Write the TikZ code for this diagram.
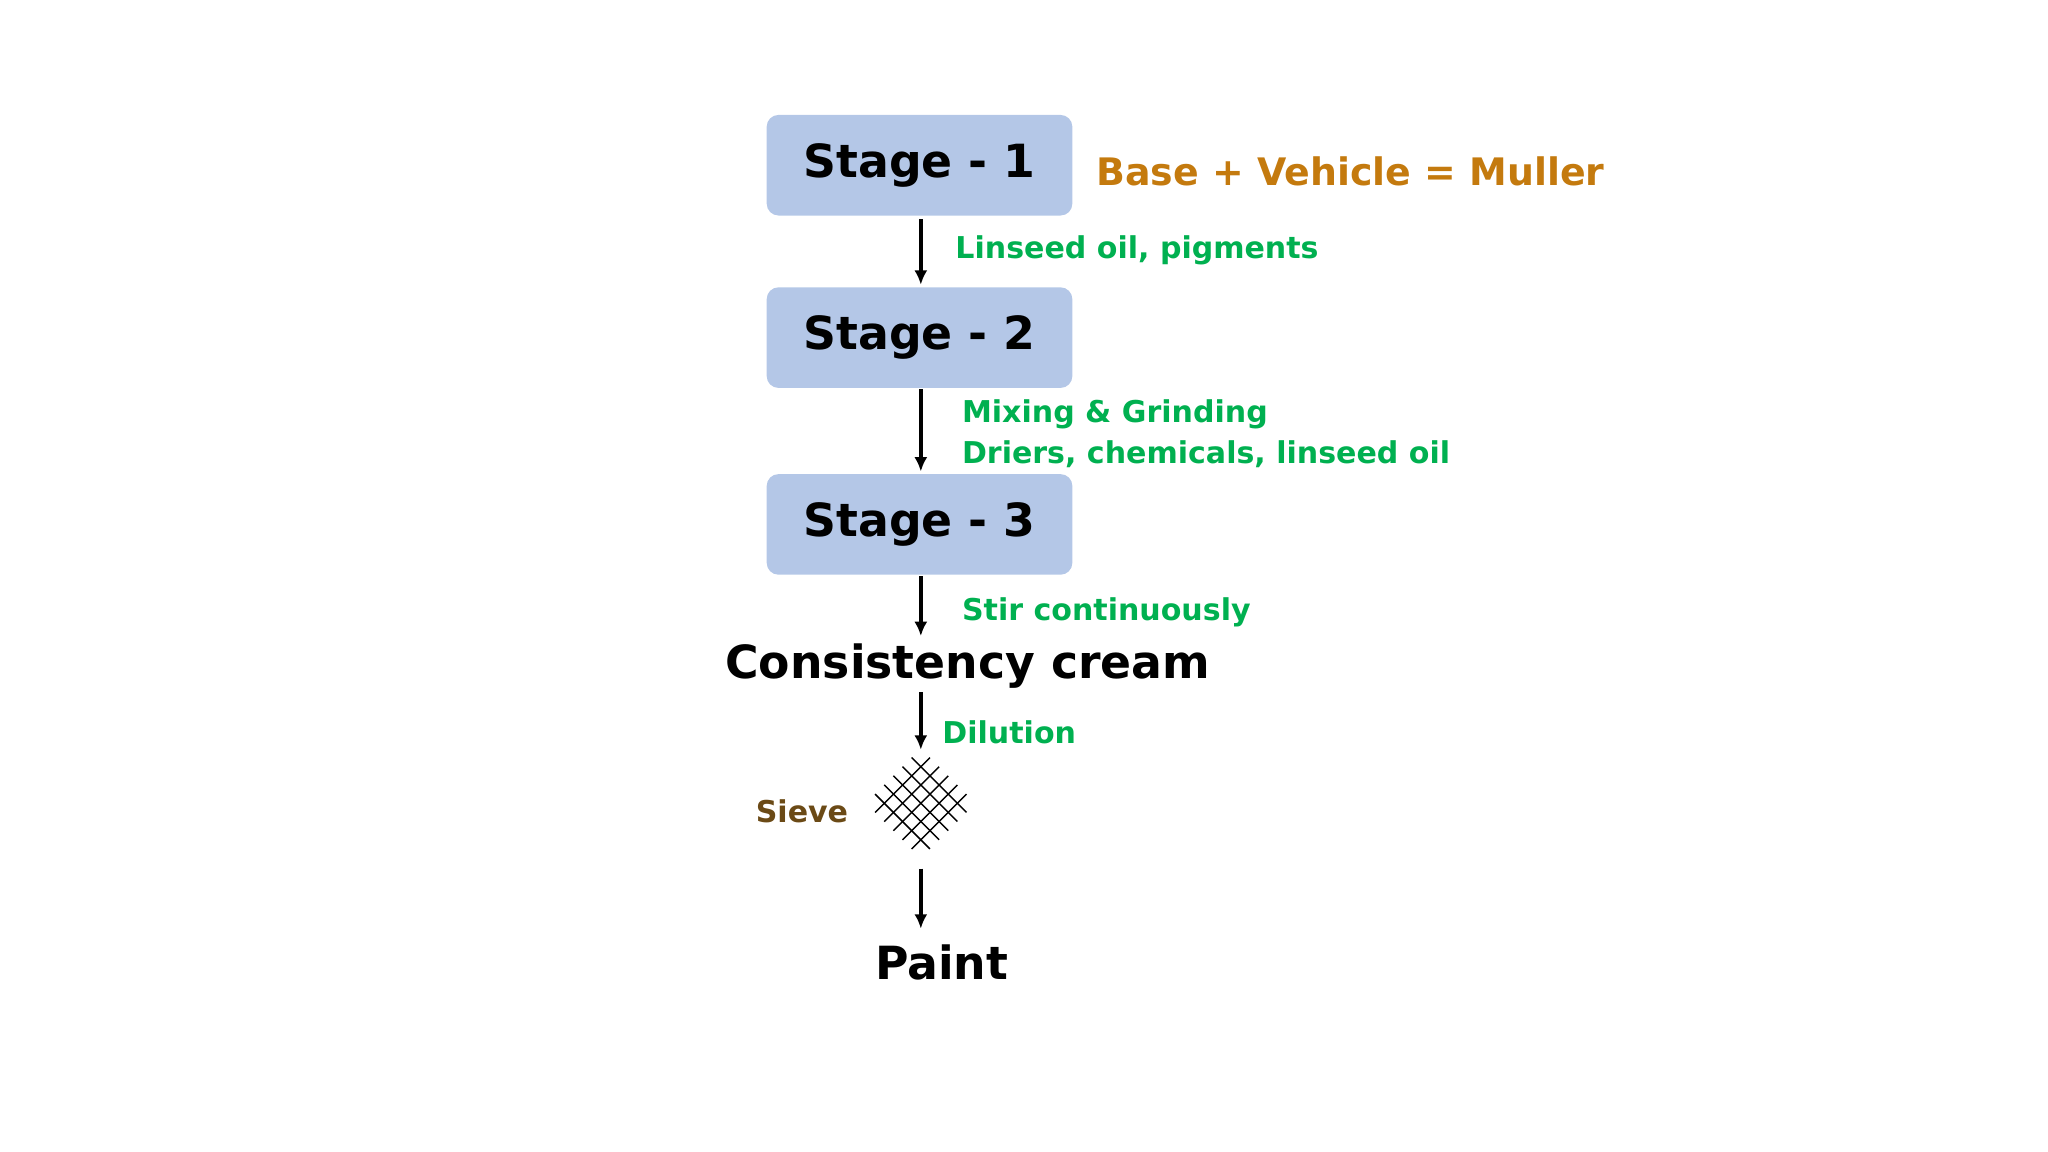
\documentclass[tikz,border=0pt]{standalone}
\usepackage{fontspec}
\setmainfont{DejaVu Sans}
\usetikzlibrary{arrows.meta}
\definecolor{boxc}{HTML}{B4C7E7}
\definecolor{grn}{HTML}{00B050}
\definecolor{org}{HTML}{C47A0E}
\definecolor{brn}{HTML}{6B4A16}
\begin{document}
\begin{tikzpicture}[x=1pt,y=-1pt,
 stage/.style={fill=boxc,rounded corners=9pt,minimum width=234pt,minimum height=77pt,font=\fontsize{35}{40}\selectfont\bfseries},
 lab/.style={text=grn,font=\fontsize{23}{31}\selectfont\bfseries,anchor=west,align=left},
 big/.style={font=\fontsize{35}{40}\selectfont\bfseries},
 arr/.style={-{Latex[length=11pt,width=10pt]},line width=3pt}]
\useasboundingbox (0,0) rectangle (1568,882);
\node[stage] (s1) at (704,126.5) {Stage - 1};
\node[stage] (s2) at (704,258.5) {Stage - 2};
\node[stage] (s3) at (704,401.5) {Stage - 3};
\node[text=org,font=\fontsize{29}{34}\selectfont\bfseries,anchor=west] (m) at (836,131) {Base + Vehicle = Muller};
\node[big] (cc) at (741,510) {Consistency cream};
\node[big] (p) at (721,737) {Paint};
\node[text=brn,font=\fontsize{23}{28}\selectfont\bfseries] (sl) at (614,621) {Sieve};
\draw[arr] (705,168) -- (705,218);
\draw[arr] (705,298) -- (705,361);
\draw[arr] (705,441) -- (705,487);
\draw[arr] (705,530) -- (705,574);
\draw[arr] (705,665) -- (705,711);
\node[lab] (l1) at (728,192) {Linseed oil, pigments};
\node[lab] (l2) at (733,332) {Mixing \& Grinding\\Driers, chemicals, linseed oil};
\node[lab] (l3) at (733,469) {Stir continuously};
\node[lab] (l4) at (718,561) {Dilution};
\foreach \d in {-14,-7,0,7,14}{
  \draw[line width=1.1pt] (705+\d-21,615-\d-21) -- (705+\d+21,615-\d+21);
  \draw[line width=1.1pt] (705+\d-21,615+\d+21) -- (705+\d+21,615+\d-21);
}
\end{tikzpicture}
\end{document}
